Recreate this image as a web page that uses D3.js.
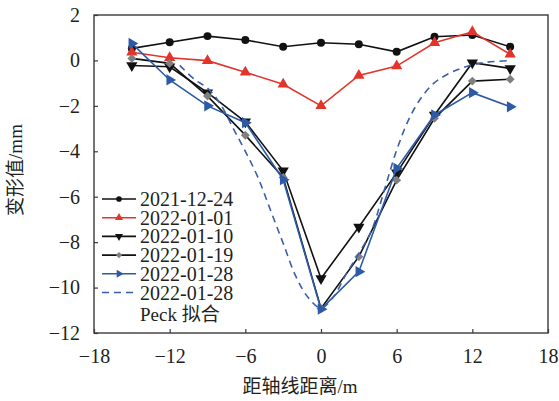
<!DOCTYPE html>
<html>
<head>
<meta charset="utf-8">
<script src="https://cdn.jsdelivr.net/npm/d3@7"></script>
<style>
  html, body { margin: 0; padding: 0; background: #fff; }
  svg { display: block; }
  text { fill: #231f20; }
</style>
</head>
<body>
<div id="chart"></div>
<script>
// Measured offsets from the tunnel axis (m)
const offsets = [-15, -12, -9, -6, -3, 0, 3, 6, 9, 12, 15];

// Deformation readings (mm) per survey date
const s20211224 = [0.53, 0.80, 1.07, 0.90, 0.60, 0.78, 0.71, 0.38, 1.04, 1.12, 0.60];
const s20220101 = [0.36, 0.12, -0.01, -0.52, -1.05, -2.00, -0.66, -0.25, 0.78, 1.26, 0.27];
const s20220110 = [-0.22, -0.28, -1.42, -2.70, -4.86, -9.60, -7.33, -4.95, -2.40, -0.10, -0.35];
const s20220119 = [0.09, -0.13, -1.57, -3.29, -5.15, -10.92, -8.64, -5.27, -2.55, -0.91, -0.83];
const s20220128 = [0.75, -0.86, -2.00, -2.74, -5.25, -10.95, -9.30, -4.75, -2.40, -1.42, -2.04];

// Peck fitted settlement trough for 2022-01-28
const peckX = [-11.2, -10, -9, -8, -7, -6, -5, -4, -3, -2, -1, 0, 1, 2, 3, 4, 5, 6, 7, 8, 9, 10, 11, 12, 13, 14, 15];
const peckY = [-0.22, -0.85, -1.22, -1.9, -2.95, -4.0, -5.15, -6.6, -8.05, -9.5, -10.45, -10.9, -10.4, -9.4, -8.5, -7.5, -5.75, -3.95, -2.55, -1.6, -0.98, -0.62, -0.37, -0.2, -0.09, -0.04, -0.01];

// Axis ticks
const xTicks = [-18, -12, -6, 0, 6, 12, 18];
const yTicks = [-12, -10, -8, -6, -4, -2, 0, 2];

const legendLabels = ["2021-12-24", "2022-01-01", "2022-01-10", "2022-01-19", "2022-01-28", "2022-01-28"];
const peckLabel = "Peck 拟合";

const SERIF = "'Liberation Serif', 'Times New Roman', serif";
const SERIF_CJK = "'Liberation Serif', 'Noto Sans CJK SC', serif";

const W = 559, H = 401;
const m = { left: 94, right: 548, top: 15, bottom: 333 };

const svg = d3.select("#chart").append("svg").attr("width", W).attr("height", H);

const x = d3.scaleLinear().domain([-18, 18]).range([m.left, m.right]);
const y = d3.scaleLinear().domain([-12, 2]).range([m.bottom, m.top]);

// Frame
svg.append("rect")
  .attr("x", m.left).attr("y", m.top)
  .attr("width", m.right - m.left).attr("height", m.bottom - m.top)
  .attr("fill", "none").attr("stroke", "#3a3a3a").attr("stroke-width", 1.4);

const fmt = d => d < 0 ? "\u2212" + Math.abs(d) : d;

// Axes with inward ticks
const xAxis = svg.append("g").attr("transform", `translate(0,${m.bottom})`)
  .call(d3.axisBottom(x).tickValues(xTicks).tickSize(-4).tickPadding(16).tickFormat(fmt));
xAxis.select(".domain").remove();
xAxis.selectAll("line").attr("stroke", "#3a3a3a").attr("stroke-width", 1.2);
xAxis.selectAll("text").attr("font-size", 20).attr("fill", "#231f20").style("font-family", SERIF);

const yAxis = svg.append("g").attr("transform", `translate(${m.left},0)`)
  .call(d3.axisLeft(y).tickValues(yTicks).tickSize(-4).tickPadding(14).tickFormat(fmt));
yAxis.select(".domain").remove();
yAxis.selectAll("line").attr("stroke", "#3a3a3a").attr("stroke-width", 1.2);
yAxis.selectAll("text").attr("font-size", 20).attr("fill", "#231f20").style("font-family", SERIF);

// Axis titles
svg.append("text").style("font-family", SERIF_CJK)
  .attr("x", 300).attr("y", 393).attr("text-anchor", "middle")
  .attr("font-size", 19)
  .text("距轴线距离/m");

svg.append("text").style("font-family", SERIF_CJK)
  .attr("transform", "translate(22,170) rotate(-90)")
  .attr("text-anchor", "middle").attr("font-size", 19)
  .text("变形值/mm");

// Series definitions
const series = [
  { name: legendLabels[0], vals: s20211224, color: "#111111", symbol: d3.symbolCircle, size: 50, rot: 0, mcolor: "#111111" },
  { name: legendLabels[1], vals: s20220101, color: "#e3342b", symbol: d3.symbolTriangle, size: 55, rot: 0, mcolor: "#e3342b" },
  { name: legendLabels[2], vals: s20220110, color: "#111111", symbol: d3.symbolTriangle, size: 55, rot: 180, mcolor: "#111111" },
  { name: legendLabels[3], vals: s20220119, color: "#111111", symbol: d3.symbolSquare, size: 40, rot: 45, mcolor: "#808080" },
  { name: legendLabels[4], vals: s20220128, color: "#2d5aa6", symbol: d3.symbolTriangle, size: 55, rot: 90, mcolor: "#2d5aa6" }
];

const line = d3.line().x(d => x(d[0])).y(d => y(d[1]));

const plot = svg.append("g");

series.forEach(s => {
  const pts = offsets.map((o, i) => [o, s.vals[i]]);
  plot.append("path").datum(pts)
    .attr("d", line).attr("fill", "none")
    .attr("stroke", s.color).attr("stroke-width", 1.6);
  plot.selectAll(null).data(pts).enter().append("path")
    .attr("d", d3.symbol().type(s.symbol).size(s.size))
    .attr("transform", d => `translate(${x(d[0])},${y(d[1])}) rotate(${s.rot})`)
    .attr("fill", s.mcolor);
});

// Peck fit (dashed)
const peckPts = peckX.map((v, i) => [v, peckY[i]]);
plot.append("path").datum(peckPts)
  .attr("d", d3.line().x(d => x(d[0])).y(d => y(d[1])).curve(d3.curveCatmullRom.alpha(0.5)))
  .attr("fill", "none").attr("stroke", "#3a5ea9").attr("stroke-width", 1.6)
  .attr("stroke-dasharray", "7,5");

// Legend
const lg = svg.append("g");
const lx0 = 102, lx1 = 136, tx = 140, ly0 = 199, dy = 18.7;
series.forEach((s, i) => {
  const yy = ly0 + i * dy;
  lg.append("line").attr("x1", lx0).attr("x2", lx1).attr("y1", yy).attr("y2", yy)
    .attr("stroke", s.color).attr("stroke-width", 1.6);
  lg.append("path")
    .attr("d", d3.symbol().type(s.symbol).size(s.size * 0.5))
    .attr("transform", `translate(${(lx0 + lx1) / 2},${yy}) rotate(${s.rot})`)
    .attr("fill", s.mcolor);
  lg.append("text").style("font-family", SERIF).attr("x", tx).attr("y", yy + 7).attr("font-size", 20)
    .text(s.name);
});
{
  const yy = ly0 + 5 * dy;
  lg.append("line").attr("x1", lx0).attr("x2", lx1).attr("y1", yy).attr("y2", yy)
    .attr("stroke", "#3a5ea9").attr("stroke-width", 1.6).attr("stroke-dasharray", "7,5");
  lg.append("text").style("font-family", SERIF).attr("x", tx).attr("y", yy + 7).attr("font-size", 20)
    .text(legendLabels[5]);
  lg.append("text").style("font-family", SERIF_CJK).attr("x", tx).attr("y", yy + dy + 10).attr("font-size", 19)
    .text(peckLabel);
}
</script>
</body>
</html>
